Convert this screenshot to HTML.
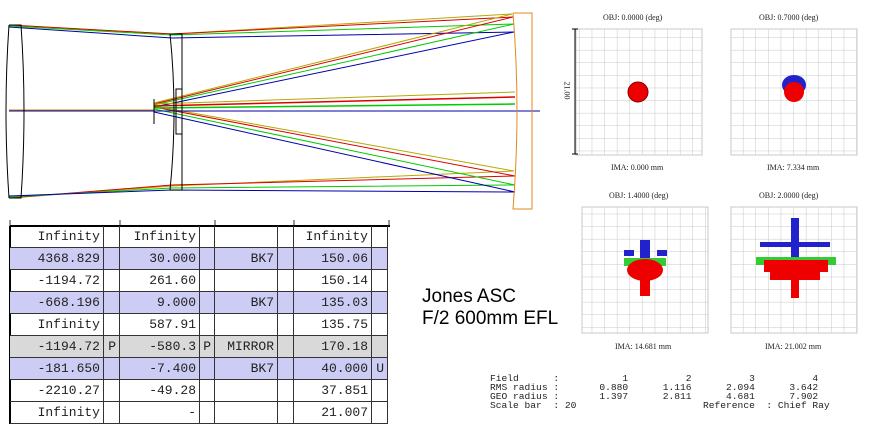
<!DOCTYPE html>
<html><head><meta charset="utf-8"><style>
body{margin:0;width:877px;height:437px;background:#fff;overflow:hidden;position:relative;font-family:"Liberation Mono",monospace}
.t{position:absolute;left:10px;top:226px;border-collapse:collapse;font-size:13px;color:#222}
.t td{height:21px;padding:0 3px;border-right:1px solid #333;border-bottom:1px solid #333;text-align:right;white-space:nowrap}
.t tr.b td{background:#ccccf4}
.t tr.g td{background:#d9d9d9}
.sm{position:absolute;font-family:"Liberation Serif",serif;font-size:8px;color:#222;white-space:nowrap}
</style></head><body>
<svg width="877" height="437" style="position:absolute;left:0;top:0">
<g fill="none" stroke-width="1">
<polyline points="9,25 172,34 512,14" stroke="#b8a800"/>
<polyline points="9,25 172,34 513,17" stroke="#d00"/>
<polyline points="9,26 172,35 514,24" stroke="#0c0"/>
<polyline points="9,27 172,38 514,32" stroke="#00a"/>
<polyline points="512,14 154,103" stroke="#b8a800"/>
<polyline points="513,17 154,104" stroke="#d00"/>
<polyline points="514,24 154,105" stroke="#0c0"/>
<polyline points="514,32 154,107" stroke="#00a"/>
<polyline points="9,198 172,186 514,171" stroke="#b8a800"/>
<polyline points="9,198 172,185 515,176" stroke="#d00"/>
<polyline points="9,197 172,188 515,185" stroke="#0c0"/>
<polyline points="9,196 172,190 515,192" stroke="#00a"/>
<polyline points="514,171 154,106" stroke="#b8a800"/>
<polyline points="515,176 154,107" stroke="#d00"/>
<polyline points="515,185 154,109" stroke="#0c0"/>
<polyline points="515,192 154,112" stroke="#00a"/>
<line x1="154" y1="104" x2="515" y2="92" stroke="#b8a800"/>
<line x1="154" y1="106" x2="515" y2="97" stroke="#d00" stroke-width="1.5"/>
<line x1="154" y1="108" x2="515" y2="104" stroke="#0c0" stroke-width="1.5"/>
<line x1="9" y1="111" x2="540" y2="111" stroke="#00a"/>
<line x1="9" y1="110" x2="154" y2="110" stroke="#c80"/>
<path d="M9,25 Q3,111 9,198 M9,25 L21,25 Q27,111 21,198 L9,198" stroke="#000"/>
<path d="M170,34 Q178,111 170,190 L182,190 L182,34 Z" stroke="#000"/>
<rect x="176" y="89" width="6" height="45" stroke="#000"/>
<line x1="154" y1="99" x2="154" y2="124" stroke="#000"/>
<path d="M513,13 L532,13 L532,209 L513,209 Q521,111 513,13" stroke="#e08a20"/>
<path d="M10,220v6M120,220v6M215,220v6M294,220v6M389,220v6" stroke="#333"/>
<line x1="10" y1="226" x2="390" y2="226" stroke="#000" stroke-width="2"/>
<line x1="10" y1="226" x2="10" y2="424" stroke="#000" stroke-width="2"/>
</g>
<defs><pattern id="gp" width="12.6" height="12.6" patternUnits="userSpaceOnUse"><path d="M12.6,0V12.6H0" fill="none" stroke="#c8c8c8"/></pattern></defs>
<g stroke="#c8c8c8" fill="url(#gp)">
<rect x="576" y="29" width="126" height="126"/>
<rect x="731" y="29" width="126" height="126"/>
<rect x="582" y="207" width="126" height="126"/>
<rect x="731" y="207" width="126" height="126"/>
</g>
<line x1="575" y1="29" x2="575" y2="154" stroke="#000"/>
<line x1="572" y1="29" x2="578" y2="29" stroke="#000"/><line x1="572" y1="154" x2="578" y2="154" stroke="#000"/>
<circle cx="638" cy="92" r="10" fill="#e00" stroke="#800"/>
<ellipse cx="794" cy="85" rx="12" ry="10" fill="#22c"/>
<circle cx="794" cy="92" r="10" fill="#e00"/>
<g fill="#22c"><rect x="640" y="240" width="10" height="22"/><rect x="624" y="250" width="10" height="6"/><rect x="657" y="250" width="10" height="6"/></g>
<g fill="#3c3"><rect x="624" y="258" width="42" height="8"/></g>
<g fill="#e00"><ellipse cx="645" cy="270" rx="18" ry="11"/><rect x="640" y="278" width="10" height="18"/></g>
<g fill="#22c"><rect x="791" y="218" width="8" height="50"/><rect x="760" y="242" width="70" height="5"/></g>
<g fill="#3c3"><rect x="756" y="257" width="80" height="8"/></g>
<g fill="#e00"><rect x="764" y="260" width="64" height="12"/><rect x="770" y="270" width="50" height="10"/><rect x="791" y="280" width="8" height="18"/></g>
</svg>
<div class="sm" style="left:603px;top:13px">OBJ: 0.0000 (deg)</div>
<div class="sm" style="left:759px;top:13px">OBJ: 0.7000 (deg)</div>
<div class="sm" style="left:611px;top:163px">IMA: 0.000 mm</div>
<div class="sm" style="left:767px;top:163px">IMA: 7.334 mm</div>
<div class="sm" style="left:609px;top:191px">OBJ: 1.4000 (deg)</div>
<div class="sm" style="left:759px;top:191px">OBJ: 2.0000 (deg)</div>
<div class="sm" style="left:615px;top:342px">IMA: 14.681 mm</div>
<div class="sm" style="left:765px;top:342px">IMA: 21.002 mm</div>
<div class="sm" style="left:558px;top:86px;transform:rotate(90deg)">21.00</div>
<pre style="position:absolute;left:490px;top:374px;margin:0;font-family:'Liberation Mono',monospace;font-size:9.6px;line-height:9px;color:#222;white-space:pre">Field      :           1          2          3          4
RMS radius :       0.880      1.116      2.094      3.642
GEO radius :       1.397      2.811      4.681      7.902
Scale bar  : 20                      Reference  : Chief Ray</pre>
<div style="position:absolute;left:422px;top:286px;font-family:'Liberation Sans',sans-serif;font-size:19px;line-height:22px;color:#000">Jones ASC<br>F/2 600mm EFL</div>
<table class="t">
<tr><td style="width:87px">Infinity</td><td style="width:9px"></td><td style="width:73px">Infinity</td><td style="width:8px"></td><td style="width:56px"></td><td style="width:9px"></td><td style="width:71px">Infinity</td><td style="width:9px"></td></tr>
<tr class="b"><td>4368.829</td><td></td><td>30.000</td><td></td><td>BK7</td><td></td><td>150.06</td><td></td></tr>
<tr><td>-1194.72</td><td></td><td>261.60</td><td></td><td></td><td></td><td>150.14</td><td></td></tr>
<tr class="b"><td>-668.196</td><td></td><td>9.000</td><td></td><td>BK7</td><td></td><td>135.03</td><td></td></tr>
<tr><td>Infinity</td><td></td><td>587.91</td><td></td><td></td><td></td><td>135.75</td><td></td></tr>
<tr class="g"><td>-1194.72</td><td>P</td><td>-580.3</td><td>P</td><td>MIRROR</td><td></td><td>170.18</td><td></td></tr>
<tr class="b"><td>-181.650</td><td></td><td>-7.400</td><td></td><td>BK7</td><td></td><td>40.000</td><td>U</td></tr>
<tr><td>-2210.27</td><td></td><td>-49.28</td><td></td><td></td><td></td><td>37.851</td><td></td></tr>
<tr><td>Infinity</td><td></td><td>-</td><td></td><td></td><td></td><td>21.007</td><td></td></tr>
</table>
</body></html>
